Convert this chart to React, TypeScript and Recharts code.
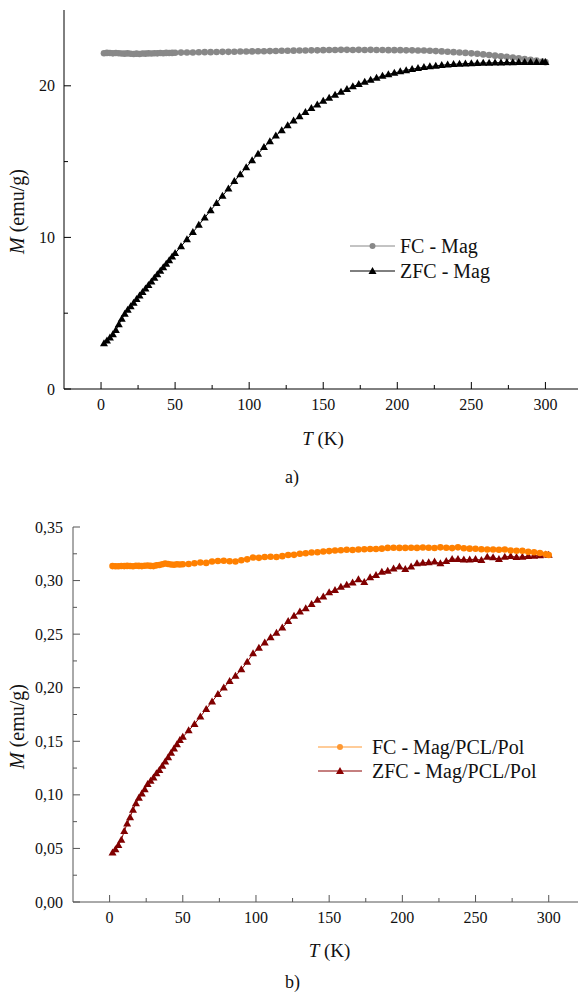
import React from 'react';
import { LineChart, Line, XAxis, YAxis, Legend, Label } from 'recharts';

// temperature steps (K)
const temps = [
  2, 4, 6, 8, 10, 12, 14, 16, 18, 20, 22, 24, 26, 28, 30, 32, 34, 36, 38, 40, 42, 44, 46, 48, 50,
  54, 58, 62, 66, 70, 74, 78, 82, 86, 90, 94, 98, 102, 106, 110, 114, 118, 122, 126, 130, 134, 138, 142, 146, 150,
  154, 158, 162, 166, 170, 174, 178, 182, 186, 190, 194, 198, 202, 206, 210, 214, 218, 222, 226, 230, 234, 238, 242, 246, 250,
  254, 258, 262, 266, 270, 274, 278, 282, 286, 290, 294, 298, 300,
];

// a) Mag
const fcMag = [
  22.15, 22.17, 22.16, 22.14, 22.16, 22.15, 22.13, 22.12, 22.14, 22.11, 22.1, 22.12, 22.1, 22.13, 22.12, 22.14, 22.13, 22.15, 22.14, 22.16, 22.15, 22.17, 22.16, 22.17, 22.18,
  22.19, 22.2, 22.2, 22.21, 22.22, 22.22, 22.23, 22.24, 22.24, 22.25, 22.26, 22.26, 22.27, 22.28, 22.28, 22.29, 22.3, 22.31, 22.31, 22.32, 22.33, 22.33, 22.34, 22.34, 22.35,
  22.36, 22.36, 22.37, 22.37, 22.36, 22.37, 22.36, 22.37, 22.36, 22.36, 22.35, 22.35, 22.35, 22.34, 22.34, 22.33, 22.33, 22.31, 22.29, 22.27, 22.25, 22.22, 22.2, 22.17, 22.14,
  22.11, 22.07, 22.03, 21.99, 21.95, 21.91, 21.87, 21.82, 21.77, 21.72, 21.66, 21.6, 21.56,
];
const zfcMag = [
  3.0, 3.18, 3.38, 3.6, 3.88, 4.25, 4.62, 4.95, 5.22, 5.45, 5.68, 5.92, 6.15, 6.38, 6.62, 6.85, 7.08, 7.32, 7.55, 7.78, 8.02, 8.25, 8.48, 8.72, 8.95,
  9.41, 9.87, 10.34, 10.82, 11.3, 11.78, 12.26, 12.74, 13.22, 13.7, 14.16, 14.62, 15.07, 15.51, 15.95, 16.33, 16.71, 17.06, 17.38, 17.7, 17.98, 18.26, 18.52, 18.76, 19.0,
  19.2, 19.4, 19.59, 19.77, 19.95, 20.1, 20.25, 20.39, 20.52, 20.65, 20.75, 20.85, 20.94, 21.02, 21.1, 21.16, 21.22, 21.27, 21.31, 21.36, 21.39, 21.42, 21.44, 21.46, 21.48,
  21.49, 21.5, 21.51, 21.52, 21.53, 21.54, 21.54, 21.55, 21.55, 21.56, 21.56, 21.56, 21.56,
];

// b) Mag/PCL/Pol
const fcComp = [
  0.3135, 0.3133, 0.3134, 0.3136, 0.3135, 0.3137, 0.3136, 0.3134, 0.3138, 0.3137, 0.3135, 0.3138, 0.3141, 0.3137, 0.3135, 0.3142, 0.3145, 0.3152, 0.316, 0.3155, 0.315, 0.3148, 0.3152, 0.315, 0.3152,
  0.3155, 0.3162, 0.3168, 0.3165, 0.3178, 0.3182, 0.3185, 0.318, 0.3178, 0.319, 0.3198, 0.3215, 0.3212, 0.322, 0.3222, 0.322, 0.3228, 0.3238, 0.324, 0.325, 0.3255, 0.3262, 0.3265, 0.3272, 0.3275,
  0.328, 0.3283, 0.3287, 0.3285, 0.329, 0.3293, 0.3295, 0.3295, 0.3298, 0.3305, 0.3307, 0.3305, 0.3305, 0.3307, 0.3305, 0.3308, 0.3306, 0.3304, 0.331, 0.3306, 0.3303, 0.331, 0.3302, 0.3298, 0.3297,
  0.3293, 0.329, 0.329, 0.3288, 0.329, 0.328, 0.3278, 0.3278, 0.3268, 0.3265, 0.3258, 0.3245, 0.3238,
];
const zfcComp = [
  0.046, 0.049, 0.053, 0.058, 0.066, 0.073, 0.079, 0.086, 0.092, 0.097, 0.101, 0.105, 0.11, 0.113, 0.116, 0.12, 0.123, 0.127, 0.131, 0.135, 0.139, 0.143, 0.147, 0.151, 0.154,
  0.16, 0.166, 0.173, 0.18, 0.187, 0.194, 0.2, 0.206, 0.211, 0.217, 0.224, 0.232, 0.237, 0.242, 0.247, 0.251, 0.256, 0.262, 0.267, 0.271, 0.274, 0.278, 0.282, 0.285, 0.289,
  0.291, 0.294, 0.296, 0.298, 0.301, 0.2985, 0.303, 0.305, 0.308, 0.309, 0.311, 0.313, 0.3105, 0.313, 0.316, 0.3165, 0.317, 0.3175, 0.316, 0.318, 0.32, 0.32, 0.3195, 0.3195, 0.32,
  0.319, 0.322, 0.3215, 0.32, 0.322, 0.3227, 0.3218, 0.322, 0.3227, 0.323, 0.3235, 0.3242, 0.3238,
];

const tempTicks = [0, 25, 50, 75, 100, 125, 150, 175, 200, 225, 250, 275, 300];
const tempMajor = [0, 50, 100, 150, 200, 250, 300];
const magTicks = [0, 5, 10, 15, 20];
const magMajor = [0, 10, 20];
const compTicks = [0, 0.025, 0.05, 0.075, 0.1, 0.125, 0.15, 0.175, 0.2, 0.225, 0.25, 0.275, 0.3, 0.325, 0.35];
const compMajor = [0, 0.05, 0.1, 0.15, 0.2, 0.25, 0.3, 0.35];

const seriesA = ['FC - Mag', 'ZFC - Mag'];
const seriesB = ['FC - Mag/PCL/Pol', 'ZFC - Mag/PCL/Pol'];

const FONT = 'Liberation Serif';

const dataA = temps.map((t, i) => ({ t, fc: fcMag[i], zfc: zfcMag[i] }));
const dataB = temps.map((t, i) => ({ t, fc: fcComp[i], zfc: zfcComp[i] }));

const isMajor = (majors: number[], v: number) => majors.some((m) => Math.abs(m - v) < 1e-9);

const makeTick =
  (side: string, majors: number[], fmt: (v: number) => string, color: string, gap = 9) =>
  (p: any) => {
    const { x, y, payload } = p;
    const v = payload.value;
    const major = isMajor(majors, v);
    const len = major ? 7 : 4;
    let ln = null;
    let txt = null;
    if (side === 'bottom') {
      ln = <line x1={x} x2={x} y1={y} y2={y - len} stroke={color} />;
      if (major)
        txt = (
          <text x={x} y={y + 21} textAnchor="middle" fontSize={16} fontFamily={FONT} fill="#111">
            {fmt(v)}
          </text>
        );
    } else if (side === 'top') {
      ln = <line x1={x} x2={x} y1={y} y2={y + len} stroke={color} />;
    } else if (side === 'left') {
      ln = <line x1={x} x2={x + len} y1={y} y2={y} stroke={color} />;
      if (major)
        txt = (
          <text x={x - gap} y={y + 5.5} textAnchor="end" fontSize={16} fontFamily={FONT} fill="#111">
            {fmt(v)}
          </text>
        );
    } else {
      ln = <line x1={x} x2={x - len} y1={y} y2={y} stroke={color} />;
    }
    return (
      <g>
        {ln}
        {txt}
      </g>
    );
  };

const circleDot = (color: string) => (p: any) =>
  p.cx == null ? <g key={`c${p.index}`} /> : <circle key={`c${p.index}`} cx={p.cx} cy={p.cy} r={3.3} fill={color} />;

const triDot = (color: string) => (p: any) =>
  p.cx == null ? (
    <g key={`t${p.index}`} />
  ) : (
    <polygon
      key={`t${p.index}`}
      points={`${p.cx},${p.cy - 4.2} ${p.cx - 4},${p.cy + 2.8} ${p.cx + 4},${p.cy + 2.8}`}
      fill={color}
    />
  );

const xTitle = (dx: number, dy: number) => (p: any) => {
  const vb = p.viewBox;
  return (
    <text x={vb.x + vb.width / 2 + dx} y={vb.y + dy} textAnchor="middle" fontSize={19} fontFamily={FONT} fill="#111">
      <tspan fontStyle="italic">T</tspan> (K)
    </text>
  );
};

const yTitle = (dy: number) => (p: any) => {
  const vb = p.viewBox;
  const cy = vb.y + vb.height / 2 + dy;
  return (
    <text
      x={24}
      y={cy}
      transform={`rotate(-90 24 ${cy})`}
      textAnchor="middle"
      fontSize={20}
      fontFamily={FONT}
      fill="#111"
    >
      <tspan fontStyle="italic">M</tspan> (emu/g)
    </text>
  );
};

const legendBox = (names: string[], colors: string[], lineEnd: number, textX: number, rowGap: number) => () => (
  <svg width={260} height={56} style={{ display: 'block' }}>
    {names.map((n, i) => {
      const y = 13 + i * rowGap;
      const mx = (5 + lineEnd) / 2;
      return (
        <g key={n}>
          <line x1={5} x2={lineEnd} y1={y} y2={y} stroke={colors[i]} strokeWidth={1} />
          {i === 0 ? (
            <circle cx={mx} cy={y} r={3} fill={colors[i]} />
          ) : (
            <polygon points={`${mx},${y - 4} ${mx - 4},${y + 3} ${mx + 4},${y + 3}`} fill={colors[i]} />
          )}
          <text x={textX} y={y + 7} fontSize={20} fontFamily={FONT} fill="#111">
            {n}
          </text>
        </g>
      );
    })}
  </svg>
);

const fmtInt = (v: number) => String(v);
const fmtComma = (v: number) => v.toFixed(2).replace('.', ',');

export default function App() {
  const axA = '#000';
  const axB = '#555';
  const axB2 = '#222';
  return (
    <div style={{ position: 'absolute', left: 0, top: 0, width: 579, height: 997, background: '#fff', fontFamily: FONT }}>
      <div style={{ position: 'absolute', left: 0, top: 0 }}>
        <LineChart width={579} height={460} data={dataA} margin={{ top: 10, right: 1, bottom: 0, left: 0 }}>
          <XAxis
            xAxisId="b"
            dataKey="t"
            type="number"
            domain={[-25, 322]}
            ticks={tempTicks}
            interval={0}
            allowDataOverflow
            height={71}
            tickLine={false}
            tickSize={0}
            tickMargin={0}
            axisLine={{ stroke: axA }}
            tick={makeTick('bottom', tempMajor, fmtInt, axA)}
          >
            <Label content={xTitle(2, 56)} />
          </XAxis>
          <XAxis
            xAxisId="t"
            orientation="top"
            dataKey="t"
            type="number"
            domain={[-25, 322]}
            ticks={tempTicks}
            interval={0}
            allowDataOverflow
            height={0}
            tickLine={false}
            tickSize={0}
            tickMargin={0}
            axisLine={{ stroke: axA }}
            tick={makeTick('top', tempMajor, fmtInt, axA)}
          />
          <YAxis
            yAxisId="l"
            type="number"
            domain={[0, 25]}
            ticks={magTicks}
            interval={0}
            allowDataOverflow
            width={64}
            tickLine={false}
            tickSize={0}
            tickMargin={0}
            axisLine={{ stroke: axA }}
            tick={makeTick('left', magMajor, fmtInt, axA, 9)}
          >
            <Label content={yTitle(12)} />
          </YAxis>
          <YAxis
            yAxisId="r"
            orientation="right"
            type="number"
            domain={[0, 25]}
            ticks={magTicks}
            interval={0}
            allowDataOverflow
            width={0}
            tickLine={false}
            tickSize={0}
            tickMargin={0}
            axisLine={{ stroke: axA }}
            tick={makeTick('right', magMajor, fmtInt, axA)}
          />
          <Line
            xAxisId="b"
            yAxisId="l"
            dataKey="fc"
            name={seriesA[0]}
            stroke="#888"
            strokeWidth={1}
            dot={circleDot('#888')}
            isAnimationActive={false}
          />
          <Line
            xAxisId="b"
            yAxisId="l"
            dataKey="zfc"
            name={seriesA[1]}
            stroke="#000"
            strokeWidth={1}
            dot={triDot('#000')}
            isAnimationActive={false}
          />
          <Legend
            layout="vertical"
            align="center"
            verticalAlign="middle"
            wrapperStyle={{ left: 345, top: 233, width: 260 }}
            content={legendBox(seriesA, ['#888', '#000'], 50, 55, 25)}
          />
        </LineChart>
      </div>
      <div style={{ position: 'absolute', left: 285, top: 467, fontSize: 18, fontFamily: FONT, color: '#111' }}>a)</div>

      <div style={{ position: 'absolute', left: 0, top: 500 }}>
        <LineChart width={579} height={472} data={dataB} margin={{ top: 27, right: 1, bottom: 0, left: 0 }}>
          <XAxis
            xAxisId="b"
            dataKey="t"
            type="number"
            domain={[-25, 320]}
            ticks={tempTicks}
            interval={0}
            allowDataOverflow
            height={70}
            tickLine={false}
            tickSize={0}
            tickMargin={0}
            axisLine={{ stroke: axB }}
            tick={makeTick('bottom', tempMajor, fmtInt, axB)}
          >
            <Label content={xTitle(4, 55)} />
          </XAxis>
          <XAxis
            xAxisId="t"
            orientation="top"
            dataKey="t"
            type="number"
            domain={[-25, 320]}
            ticks={tempTicks}
            interval={0}
            allowDataOverflow
            height={0}
            tickLine={false}
            tickSize={0}
            tickMargin={0}
            axisLine={{ stroke: axB2 }}
            tick={makeTick('top', tempMajor, fmtInt, axB)}
          />
          <YAxis
            yAxisId="l"
            type="number"
            domain={[0, 0.35]}
            ticks={compTicks}
            interval={0}
            allowDataOverflow
            width={73}
            tickLine={false}
            tickSize={0}
            tickMargin={0}
            axisLine={{ stroke: axB }}
            tick={makeTick('left', compMajor, fmtComma, axB, 10)}
          >
            <Label content={yTitle(12)} />
          </YAxis>
          <YAxis
            yAxisId="r"
            orientation="right"
            type="number"
            domain={[0, 0.35]}
            ticks={compTicks}
            interval={0}
            allowDataOverflow
            width={0}
            tickLine={false}
            tickSize={0}
            tickMargin={0}
            axisLine={{ stroke: axB2 }}
            tick={makeTick('right', compMajor, fmtComma, axB)}
          />
          <Line
            xAxisId="b"
            yAxisId="l"
            dataKey="zfc"
            name={seriesB[1]}
            stroke="#8B0000"
            strokeWidth={1}
            dot={triDot('#800000')}
            isAnimationActive={false}
          />
          <Line
            xAxisId="b"
            yAxisId="l"
            dataKey="fc"
            name={seriesB[0]}
            stroke="#FF8000"
            strokeWidth={1}
            dot={circleDot('#FF8000')}
            isAnimationActive={false}
          />
          <Legend
            layout="vertical"
            align="center"
            verticalAlign="middle"
            wrapperStyle={{ left: 313, top: 234, width: 260 }}
            content={legendBox(seriesB, ['#FF9933', '#8B0000'], 49, 59, 24)}
          />
        </LineChart>
      </div>
      <div style={{ position: 'absolute', left: 285, top: 972, fontSize: 18, fontFamily: FONT, color: '#111' }}>b)</div>
    </div>
  );
}
